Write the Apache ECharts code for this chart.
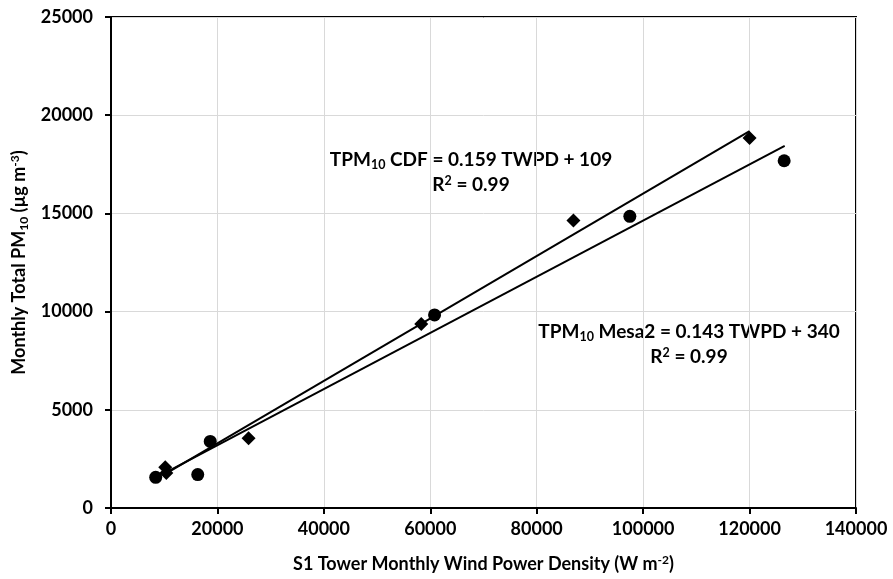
<!DOCTYPE html>
<html><head><meta charset="utf-8">
<script src="https://cdn.jsdelivr.net/npm/echarts@6/dist/echarts.min.js"></script>
<style>html,body{margin:0;padding:0;background:#fff}#c{width:893px;height:579px}</style>
</head><body><div id="c"></div>
<script>
// CDF series (diamonds)
const cdfX = [10200, 10400, 25850, 58300, 86900, 120000];
const cdfY = [2070, 1780, 3550, 9370, 14640, 18840];
// Mesa2 series (circles)
const mesaX = [8400, 16300, 18650, 60800, 97500, 126500];
const mesaY = [1560, 1700, 3390, 9830, 14850, 17680];
// trendline coefficients from chart labels [slope, intercept] and spans
const cdfFit = [0.159, 109];
const mesaFit = [0.143, 340];
const cdfTrendX = [10300, 120000];
const mesaTrendX = [10600, 126600];
const xTicks = [0, 20000, 40000, 60000, 80000, 100000, 120000, 140000];
const yTicks = [0, 5000, 10000, 15000, 20000, 25000];

const F = 'Lato';
const FS = 18;
const chart = echarts.init(document.getElementById('c'));
const pairs = (xs, ys) => xs.map((x, i) => [x, ys[i]]);
const trend = (xs, f) => xs.map(x => [x, f[0] * x + f[1]]);
const richT = { fontFamily: F, fontWeight: 'bold', fontSize: FS, color: '#000' };
const richSub = { fontFamily: F, fontWeight: 'bold', fontSize: 12, color: '#000', padding: [9, 0, 0, 0] };
const richSup = { fontFamily: F, fontWeight: 'bold', fontSize: 12, color: '#000', padding: [0, 0, 9, 0] };
const gRich = {
  t: { fontFamily: F, fontWeight: 'bold', fontSize: 19, fill: '#000' },
  b: { fontFamily: F, fontWeight: 'bold', fontSize: 12.5, fill: '#000', padding: [10, 0, 0, 0] },
  s: { fontFamily: F, fontWeight: 'bold', fontSize: 12.5, fill: '#000', padding: [0, 0, 9, 0] }
};

chart.setOption({
  animation: false,
  grid: { left: 111, right: 37, top: 17, bottom: 71, show: true, borderColor: '#000', borderWidth: 2, outerBoundsMode: 'none', containLabel: false },
  xAxis: {
    type: 'value', min: xTicks[0], max: xTicks[xTicks.length - 1], interval: 20000,
    axisLine: { lineStyle: { color: '#000', width: 2 } },
    axisTick: { show: true, length: 6, lineStyle: { color: '#000', width: 2 } },
    splitLine: { show: true, lineStyle: { color: '#d9d9d9', width: 1 } },
    axisLabel: { color: '#000', fontFamily: F, fontWeight: 'bold', fontSize: FS, margin: 12, formatter: v => String(v) },
    name: '{t|S1 Tower Monthly Wind Power Density (W m}{s|-2}{t|)}',
    nameLocation: 'middle', nameGap: 46,
    nameTextStyle: { rich: { t: richT, s: richSup } }
  },
  yAxis: {
    type: 'value', min: yTicks[0], max: yTicks[yTicks.length - 1], interval: 5000,
    axisLine: { show: true, lineStyle: { color: '#000', width: 2 } },
    axisTick: { show: true, length: 6, lineStyle: { color: '#000', width: 2 } },
    splitLine: { show: true, lineStyle: { color: '#d9d9d9', width: 1 } },
    axisLabel: { color: '#000', fontFamily: F, fontWeight: 'bold', fontSize: FS, margin: 18, formatter: v => String(v) },
    name: '{t|Monthly Total PM}{b|10}{t| (µg m}{s|-3}{t|)}',
    nameLocation: 'middle', nameGap: 81, nameRotate: 90,
    nameTextStyle: { rich: { t: richT, b: richSub, s: richSup } }
  },
  series: [
    { type: 'line', data: trend(cdfTrendX, cdfFit), symbol: 'none', lineStyle: { color: '#000', width: 2 }, z: 2 },
    { type: 'line', data: trend(mesaTrendX, mesaFit), symbol: 'none', lineStyle: { color: '#000', width: 2 }, z: 2 },
    { type: 'scatter', data: pairs(cdfX, cdfY), symbol: 'diamond', symbolSize: 14, itemStyle: { color: '#000', opacity: 1 }, z: 3 },
    { type: 'scatter', data: pairs(mesaX, mesaY), symbol: 'circle', symbolSize: 13, itemStyle: { color: '#000', opacity: 1 }, z: 3 }
  ],
  graphic: [
    { type: 'text', x: 471, y: 160, style: { text: '{t|TPM}{b|10}{t| CDF = 0.159 TWPD + 109}', rich: gRich, align: 'center', verticalAlign: 'middle' } },
    { type: 'text', x: 471, y: 185, style: { text: '{t|R}{s|2}{t| = 0.99}', rich: gRich, align: 'center', verticalAlign: 'middle' } },
    { type: 'text', x: 689, y: 332, style: { text: '{t|TPM}{b|10}{t| Mesa2 = 0.143 TWPD + 340}', rich: gRich, align: 'center', verticalAlign: 'middle' } },
    { type: 'text', x: 689, y: 357, style: { text: '{t|R}{s|2}{t| = 0.99}', rich: gRich, align: 'center', verticalAlign: 'middle' } }
  ]
});
</script></body></html>
